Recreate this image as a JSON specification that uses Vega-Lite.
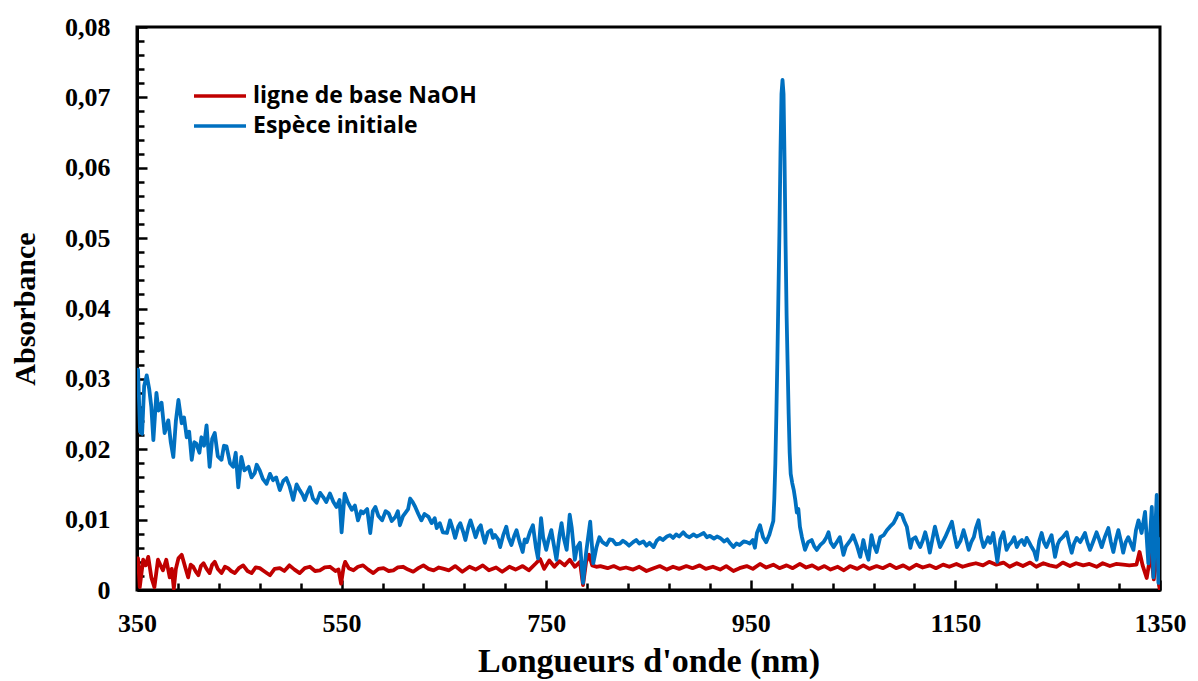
{
 "$schema": "https://vega.github.io/schema/vega-lite/v6.json",
 "width": 1023, "height": 563,
 "autosize": {"type": "none"},
 "padding": {"left": 137, "top": 27, "right": 38, "bottom": 91},
 "background": "white",
 "config": {
  "view": {"stroke": "black", "strokeWidth": 3},
  "axis": {"labelFont": "Liberation Serif", "labelFontWeight": "bold", "labelFontSize": 26, "labelColor": "black",
   "titleFont": "Liberation Serif", "titleFontWeight": "bold", "titleColor": "black",
   "domainColor": "black", "domainWidth": 3, "ticks": false, "gridColor": "black", "gridWidth": 2.5, "gridOpacity": 1, "zindex": 1}
 },
 "data": {"values": [
{"s":"R","w":350,"v":0.004},{"s":"R","w":351,"v":0.0045},{"s":"R","w":352.7,"v":0.0004},{"s":"R","w":356,"v":0.0043},{"s":"R","w":358.5,"v":0.0035},{"s":"R","w":361,"v":0.0047},{"s":"R","w":364,"v":0.0018},{"s":"R","w":367,"v":0.0004},{"s":"R","w":370.5,"v":0.0043},{"s":"R","w":373,"v":0.0035},{"s":"R","w":375.4,"v":0.0028},{"s":"R","w":378.6,"v":0.0043},{"s":"R","w":382,"v":0.0018},{"s":"R","w":384,"v":0.003},{"s":"R","w":386,"v":0.0002},{"s":"R","w":388,"v":0.003},{"s":"R","w":390.5,"v":0.0045},{"s":"R","w":393.7,"v":0.005},{"s":"R","w":397,"v":0.0033},{"s":"R","w":400,"v":0.0018},{"s":"R","w":402.5,"v":0.0036},{"s":"R","w":405,"v":0.0033},{"s":"R","w":407.5,"v":0.0026},{"s":"R","w":410,"v":0.0021},{"s":"R","w":412.5,"v":0.0034},{"s":"R","w":415,"v":0.0038},{"s":"R","w":418,"v":0.003},{"s":"R","w":421,"v":0.0024},{"s":"R","w":423.5,"v":0.0036},{"s":"R","w":426,"v":0.004},{"s":"R","w":429,"v":0.003},{"s":"R","w":432.6,"v":0.0024},{"s":"R","w":436,"v":0.0033},{"s":"R","w":439,"v":0.0031},{"s":"R","w":442,"v":0.0027},{"s":"R","w":445.6,"v":0.0024},{"s":"R","w":449.5,"v":0.0031},{"s":"R","w":453.8,"v":0.0035},{"s":"R","w":458,"v":0.0027},{"s":"R","w":462,"v":0.0024},{"s":"R","w":466,"v":0.0032},{"s":"R","w":470,"v":0.0031},{"s":"R","w":475,"v":0.0026},{"s":"R","w":480,"v":0.0021},{"s":"R","w":484.5,"v":0.003},{"s":"R","w":489.6,"v":0.0031},{"s":"R","w":494,"v":0.0027},{"s":"R","w":499,"v":0.0035},{"s":"R","w":504,"v":0.0029},{"s":"R","w":509,"v":0.0024},{"s":"R","w":514,"v":0.0031},{"s":"R","w":519,"v":0.0033},{"s":"R","w":524,"v":0.0027},{"s":"R","w":528.8,"v":0.0028},{"s":"R","w":533.5,"v":0.0032},{"s":"R","w":538.6,"v":0.0033},{"s":"R","w":544,"v":0.0027},{"s":"R","w":547,"v":0.0029},{"s":"R","w":549.5,"v":0.0009},{"s":"R","w":552,"v":0.0033},{"s":"R","w":553.5,"v":0.004},{"s":"R","w":557,"v":0.0031},{"s":"R","w":561.6,"v":0.0028},{"s":"R","w":566,"v":0.0033},{"s":"R","w":571,"v":0.0035},{"s":"R","w":576,"v":0.0029},{"s":"R","w":581,"v":0.0024},{"s":"R","w":586,"v":0.003},{"s":"R","w":591,"v":0.0031},{"s":"R","w":596,"v":0.0027},{"s":"R","w":600.6,"v":0.0028},{"s":"R","w":605,"v":0.0032},{"s":"R","w":610,"v":0.0033},{"s":"R","w":615,"v":0.0029},{"s":"R","w":620,"v":0.0026},{"s":"R","w":625,"v":0.0031},{"s":"R","w":630,"v":0.0035},{"s":"R","w":635,"v":0.003},{"s":"R","w":640,"v":0.0028},{"s":"R","w":645,"v":0.0032},{"s":"R","w":650,"v":0.003},{"s":"R","w":655,"v":0.0028},{"s":"R","w":661,"v":0.0034},{"s":"R","w":668,"v":0.0026},{"s":"R","w":675,"v":0.0033},{"s":"R","w":681,"v":0.0029},{"s":"R","w":688,"v":0.0035},{"s":"R","w":694,"v":0.0028},{"s":"R","w":701,"v":0.0032},{"s":"R","w":707,"v":0.0026},{"s":"R","w":714,"v":0.0033},{"s":"R","w":720,"v":0.0029},{"s":"R","w":727,"v":0.0034},{"s":"R","w":733,"v":0.0028},{"s":"R","w":740,"v":0.0038},{"s":"R","w":744,"v":0.0044},{"s":"R","w":748,"v":0.003},{"s":"R","w":753,"v":0.0042},{"s":"R","w":758,"v":0.0033},{"s":"R","w":763,"v":0.0041},{"s":"R","w":768,"v":0.0035},{"s":"R","w":773,"v":0.0043},{"s":"R","w":778,"v":0.0033},{"s":"R","w":783,"v":0.004},{"s":"R","w":786,"v":0.0007},{"s":"R","w":789,"v":0.004},{"s":"R","w":792,"v":0.005},{"s":"R","w":795,"v":0.0035},{"s":"R","w":799,"v":0.0033},{"s":"R","w":803,"v":0.0034},{"s":"R","w":810,"v":0.0031},{"s":"R","w":816,"v":0.0034},{"s":"R","w":822,"v":0.003},{"s":"R","w":828,"v":0.0032},{"s":"R","w":835,"v":0.0029},{"s":"R","w":841,"v":0.0033},{"s":"R","w":848,"v":0.0027},{"s":"R","w":855,"v":0.0031},{"s":"R","w":861,"v":0.0034},{"s":"R","w":868,"v":0.0029},{"s":"R","w":874,"v":0.0033},{"s":"R","w":880,"v":0.003},{"s":"R","w":887,"v":0.0034},{"s":"R","w":893,"v":0.0031},{"s":"R","w":900,"v":0.0035},{"s":"R","w":906,"v":0.003},{"s":"R","w":913,"v":0.0033},{"s":"R","w":920,"v":0.0029},{"s":"R","w":926,"v":0.0034},{"s":"R","w":933,"v":0.0027},{"s":"R","w":939,"v":0.0031},{"s":"R","w":946,"v":0.0034},{"s":"R","w":952,"v":0.003},{"s":"R","w":959,"v":0.0037},{"s":"R","w":965,"v":0.0032},{"s":"R","w":972,"v":0.0036},{"s":"R","w":978,"v":0.0031},{"s":"R","w":985,"v":0.0035},{"s":"R","w":991,"v":0.0031},{"s":"R","w":998,"v":0.0037},{"s":"R","w":1004,"v":0.0032},{"s":"R","w":1010,"v":0.0035},{"s":"R","w":1016,"v":0.003},{"s":"R","w":1022,"v":0.0034},{"s":"R","w":1028,"v":0.0029},{"s":"R","w":1035,"v":0.0033},{"s":"R","w":1041,"v":0.0028},{"s":"R","w":1047,"v":0.0034},{"s":"R","w":1054,"v":0.003},{"s":"R","w":1060,"v":0.0035},{"s":"R","w":1066,"v":0.003},{"s":"R","w":1073,"v":0.0034},{"s":"R","w":1079,"v":0.0031},{"s":"R","w":1086,"v":0.0036},{"s":"R","w":1092,"v":0.0031},{"s":"R","w":1099,"v":0.0035},{"s":"R","w":1105,"v":0.003},{"s":"R","w":1112,"v":0.0036},{"s":"R","w":1118,"v":0.0032},{"s":"R","w":1125,"v":0.0035},{"s":"R","w":1131,"v":0.0031},{"s":"R","w":1138,"v":0.0036},{"s":"R","w":1144,"v":0.0033},{"s":"R","w":1151,"v":0.0037},{"s":"R","w":1157,"v":0.0033},{"s":"R","w":1164,"v":0.0036},{"s":"R","w":1170,"v":0.0038},{"s":"R","w":1177,"v":0.0035},{"s":"R","w":1183,"v":0.004},{"s":"R","w":1190,"v":0.0036},{"s":"R","w":1197,"v":0.0039},{"s":"R","w":1203,"v":0.0033},{"s":"R","w":1210,"v":0.0038},{"s":"R","w":1216,"v":0.0034},{"s":"R","w":1223,"v":0.0039},{"s":"R","w":1229,"v":0.0033},{"s":"R","w":1236,"v":0.0038},{"s":"R","w":1242,"v":0.0035},{"s":"R","w":1249,"v":0.0033},{"s":"R","w":1255,"v":0.0039},{"s":"R","w":1262,"v":0.0034},{"s":"R","w":1268,"v":0.0038},{"s":"R","w":1275,"v":0.0035},{"s":"R","w":1281,"v":0.0037},{"s":"R","w":1288,"v":0.0033},{"s":"R","w":1294,"v":0.0038},{"s":"R","w":1301,"v":0.0034},{"s":"R","w":1307,"v":0.0037},{"s":"R","w":1314,"v":0.0036},{"s":"R","w":1320,"v":0.0035},{"s":"R","w":1327,"v":0.0036},{"s":"R","w":1330,"v":0.0054},{"s":"R","w":1333,"v":0.0035},{"s":"R","w":1337,"v":0.0017},{"s":"R","w":1341,"v":0.0052},{"s":"R","w":1344,"v":0.0015},{"s":"R","w":1347,"v":0.0071},{"s":"R","w":1349,"v":0.0007},{"s":"R","w":1350,"v":0.0},
{"s":"B","w":350,"v":0.0285},{"s":"B","w":351,"v":0.0313},{"s":"B","w":353,"v":0.0225},{"s":"B","w":355,"v":0.0222},{"s":"B","w":357,"v":0.029},{"s":"B","w":359.5,"v":0.0305},{"s":"B","w":362,"v":0.0285},{"s":"B","w":364,"v":0.026},{"s":"B","w":366,"v":0.0213},{"s":"B","w":369,"v":0.028},{"s":"B","w":371,"v":0.0255},{"s":"B","w":374,"v":0.0266},{"s":"B","w":377,"v":0.0223},{"s":"B","w":380.6,"v":0.0241},{"s":"B","w":383,"v":0.021},{"s":"B","w":385.5,"v":0.0189},{"s":"B","w":388,"v":0.024},{"s":"B","w":390.5,"v":0.027},{"s":"B","w":393.7,"v":0.0237},{"s":"B","w":396,"v":0.0245},{"s":"B","w":398.6,"v":0.0217},{"s":"B","w":401,"v":0.0225},{"s":"B","w":403.5,"v":0.0185},{"s":"B","w":406,"v":0.021},{"s":"B","w":408,"v":0.0208},{"s":"B","w":411,"v":0.0195},{"s":"B","w":413,"v":0.0217},{"s":"B","w":415.5,"v":0.0205},{"s":"B","w":418,"v":0.0234},{"s":"B","w":421,"v":0.0175},{"s":"B","w":423.5,"v":0.0215},{"s":"B","w":426,"v":0.0223},{"s":"B","w":429,"v":0.019},{"s":"B","w":432.6,"v":0.0185},{"s":"B","w":435,"v":0.0205},{"s":"B","w":437.5,"v":0.0204},{"s":"B","w":441,"v":0.018},{"s":"B","w":444,"v":0.0175},{"s":"B","w":446.5,"v":0.0195},{"s":"B","w":449,"v":0.0146},{"s":"B","w":452,"v":0.0189},{"s":"B","w":455,"v":0.017},{"s":"B","w":459,"v":0.0175},{"s":"B","w":462,"v":0.016},{"s":"B","w":465,"v":0.0166},{"s":"B","w":467,"v":0.0178},{"s":"B","w":470,"v":0.017},{"s":"B","w":473,"v":0.0158},{"s":"B","w":476.7,"v":0.0151},{"s":"B","w":480,"v":0.0165},{"s":"B","w":483,"v":0.0156},{"s":"B","w":486,"v":0.016},{"s":"B","w":489.6,"v":0.0142},{"s":"B","w":493,"v":0.0155},{"s":"B","w":496,"v":0.0159},{"s":"B","w":499,"v":0.0148},{"s":"B","w":502.7,"v":0.0128},{"s":"B","w":506,"v":0.015},{"s":"B","w":509,"v":0.0142},{"s":"B","w":512,"v":0.0135},{"s":"B","w":514,"v":0.0128},{"s":"B","w":517,"v":0.014},{"s":"B","w":519,"v":0.0146},{"s":"B","w":522,"v":0.013},{"s":"B","w":525.6,"v":0.0124},{"s":"B","w":529,"v":0.0138},{"s":"B","w":532,"v":0.0132},{"s":"B","w":535,"v":0.0125},{"s":"B","w":538.6,"v":0.0137},{"s":"B","w":542,"v":0.0125},{"s":"B","w":545,"v":0.0118},{"s":"B","w":548,"v":0.0128},{"s":"B","w":550,"v":0.0082},{"s":"B","w":553,"v":0.0137},{"s":"B","w":556,"v":0.0125},{"s":"B","w":560,"v":0.0114},{"s":"B","w":563,"v":0.012},{"s":"B","w":566,"v":0.0099},{"s":"B","w":569,"v":0.0112},{"s":"B","w":571,"v":0.0109},{"s":"B","w":575,"v":0.0115},{"s":"B","w":578,"v":0.0081},{"s":"B","w":580.5,"v":0.0112},{"s":"B","w":583,"v":0.0118},{"s":"B","w":586,"v":0.0105},{"s":"B","w":589.6,"v":0.0099},{"s":"B","w":593,"v":0.0112},{"s":"B","w":596,"v":0.0109},{"s":"B","w":599,"v":0.0098},{"s":"B","w":602.7,"v":0.0104},{"s":"B","w":605,"v":0.0112},{"s":"B","w":607,"v":0.0092},{"s":"B","w":610,"v":0.0105},{"s":"B","w":612,"v":0.0109},{"s":"B","w":615,"v":0.0115},{"s":"B","w":617,"v":0.013},{"s":"B","w":619.5,"v":0.0125},{"s":"B","w":622,"v":0.0118},{"s":"B","w":625,"v":0.0108},{"s":"B","w":628,"v":0.0099},{"s":"B","w":631,"v":0.0108},{"s":"B","w":635,"v":0.0104},{"s":"B","w":638,"v":0.0095},{"s":"B","w":641,"v":0.0102},{"s":"B","w":643,"v":0.0088},{"s":"B","w":646,"v":0.0095},{"s":"B","w":649,"v":0.0082},{"s":"B","w":653,"v":0.0081},{"s":"B","w":656,"v":0.0099},{"s":"B","w":659,"v":0.0085},{"s":"B","w":661,"v":0.0074},{"s":"B","w":664,"v":0.009},{"s":"B","w":666,"v":0.0095},{"s":"B","w":669,"v":0.0082},{"s":"B","w":671,"v":0.0071},{"s":"B","w":674,"v":0.009},{"s":"B","w":676,"v":0.0099},{"s":"B","w":679,"v":0.0085},{"s":"B","w":681,"v":0.0075},{"s":"B","w":684,"v":0.0088},{"s":"B","w":686,"v":0.0092},{"s":"B","w":688,"v":0.0078},{"s":"B","w":690,"v":0.0067},{"s":"B","w":693,"v":0.0082},{"s":"B","w":696,"v":0.0085},{"s":"B","w":698,"v":0.0074},{"s":"B","w":700,"v":0.0078},{"s":"B","w":703,"v":0.0072},{"s":"B","w":705,"v":0.0061},{"s":"B","w":708,"v":0.0078},{"s":"B","w":711,"v":0.009},{"s":"B","w":713,"v":0.0075},{"s":"B","w":716,"v":0.0064},{"s":"B","w":719,"v":0.0078},{"s":"B","w":721,"v":0.0085},{"s":"B","w":724,"v":0.0068},{"s":"B","w":727,"v":0.0054},{"s":"B","w":729,"v":0.0072},{"s":"B","w":731,"v":0.0068},{"s":"B","w":734,"v":0.0082},{"s":"B","w":737,"v":0.0092},{"s":"B","w":740,"v":0.006},{"s":"B","w":742,"v":0.0045},{"s":"B","w":745,"v":0.0102},{"s":"B","w":747,"v":0.0075},{"s":"B","w":750,"v":0.0057},{"s":"B","w":752,"v":0.007},{"s":"B","w":755,"v":0.0085},{"s":"B","w":757,"v":0.0068},{"s":"B","w":760,"v":0.0043},{"s":"B","w":763,"v":0.0078},{"s":"B","w":765,"v":0.0095},{"s":"B","w":767,"v":0.0075},{"s":"B","w":770,"v":0.0057},{"s":"B","w":773,"v":0.0107},{"s":"B","w":775,"v":0.0088},{"s":"B","w":778,"v":0.0043},{"s":"B","w":780,"v":0.006},{"s":"B","w":783,"v":0.0067},{"s":"B","w":786,"v":0.001},{"s":"B","w":789,"v":0.0053},{"s":"B","w":791,"v":0.0075},{"s":"B","w":793,"v":0.0097},{"s":"B","w":796,"v":0.0038},{"s":"B","w":799,"v":0.006},{"s":"B","w":802,"v":0.0075},{"s":"B","w":805,"v":0.0068},{"s":"B","w":809,"v":0.0064},{"s":"B","w":812,"v":0.0072},{"s":"B","w":815,"v":0.0071},{"s":"B","w":818,"v":0.0065},{"s":"B","w":822,"v":0.0066},{"s":"B","w":825,"v":0.007},{"s":"B","w":828,"v":0.0067},{"s":"B","w":831,"v":0.0063},{"s":"B","w":835,"v":0.0068},{"s":"B","w":838,"v":0.0071},{"s":"B","w":841,"v":0.0066},{"s":"B","w":845,"v":0.0069},{"s":"B","w":848,"v":0.0063},{"s":"B","w":851,"v":0.0067},{"s":"B","w":855,"v":0.0061},{"s":"B","w":858,"v":0.007},{"s":"B","w":861,"v":0.0074},{"s":"B","w":864,"v":0.0071},{"s":"B","w":868,"v":0.0076},{"s":"B","w":871,"v":0.0078},{"s":"B","w":874,"v":0.0074},{"s":"B","w":877,"v":0.0079},{"s":"B","w":880,"v":0.0076},{"s":"B","w":884,"v":0.0082},{"s":"B","w":887,"v":0.0077},{"s":"B","w":890,"v":0.0075},{"s":"B","w":894,"v":0.0079},{"s":"B","w":897,"v":0.0076},{"s":"B","w":900,"v":0.0078},{"s":"B","w":904,"v":0.0081},{"s":"B","w":907,"v":0.0075},{"s":"B","w":910,"v":0.0077},{"s":"B","w":914,"v":0.0073},{"s":"B","w":917,"v":0.0076},{"s":"B","w":920,"v":0.0074},{"s":"B","w":924,"v":0.0069},{"s":"B","w":927,"v":0.0072},{"s":"B","w":930,"v":0.0066},{"s":"B","w":933,"v":0.0061},{"s":"B","w":936,"v":0.0066},{"s":"B","w":939,"v":0.0064},{"s":"B","w":943,"v":0.0069},{"s":"B","w":946,"v":0.0068},{"s":"B","w":949,"v":0.0066},{"s":"B","w":952,"v":0.0071},{"s":"B","w":954,"v":0.006},{"s":"B","w":956,"v":0.0081},{"s":"B","w":959,"v":0.0092},{"s":"B","w":962,"v":0.0075},{"s":"B","w":965,"v":0.0068},{"s":"B","w":968,"v":0.0078},{"s":"B","w":970,"v":0.0088},{"s":"B","w":972,"v":0.0098},{"s":"B","w":973,"v":0.013},{"s":"B","w":974,"v":0.018},{"s":"B","w":975,"v":0.025},{"s":"B","w":976,"v":0.033},{"s":"B","w":977,"v":0.042},{"s":"B","w":978,"v":0.051},{"s":"B","w":979,"v":0.062},{"s":"B","w":980,"v":0.0705},{"s":"B","w":981,"v":0.0725},{"s":"B","w":982,"v":0.0705},{"s":"B","w":983,"v":0.061},{"s":"B","w":984,"v":0.049},{"s":"B","w":985,"v":0.039},{"s":"B","w":986,"v":0.032},{"s":"B","w":987,"v":0.025},{"s":"B","w":988,"v":0.0195},{"s":"B","w":989,"v":0.0165},{"s":"B","w":990.5,"v":0.0152},{"s":"B","w":992,"v":0.0142},{"s":"B","w":993.5,"v":0.0128},{"s":"B","w":995,"v":0.011},{"s":"B","w":996.5,"v":0.0115},{"s":"B","w":998,"v":0.009},{"s":"B","w":1000,"v":0.0075},{"s":"B","w":1003,"v":0.0057},{"s":"B","w":1006,"v":0.0068},{"s":"B","w":1009.5,"v":0.0071},{"s":"B","w":1012,"v":0.0062},{"s":"B","w":1014.5,"v":0.0057},{"s":"B","w":1018,"v":0.0064},{"s":"B","w":1021,"v":0.0068},{"s":"B","w":1024,"v":0.0075},{"s":"B","w":1026,"v":0.0082},{"s":"B","w":1028,"v":0.0068},{"s":"B","w":1031,"v":0.0061},{"s":"B","w":1034,"v":0.0068},{"s":"B","w":1037,"v":0.0075},{"s":"B","w":1040.6,"v":0.005},{"s":"B","w":1043,"v":0.0062},{"s":"B","w":1045.5,"v":0.0067},{"s":"B","w":1048,"v":0.0072},{"s":"B","w":1050,"v":0.0078},{"s":"B","w":1054,"v":0.0062},{"s":"B","w":1057,"v":0.0047},{"s":"B","w":1060,"v":0.0071},{"s":"B","w":1062,"v":0.0058},{"s":"B","w":1065,"v":0.0043},{"s":"B","w":1068,"v":0.0078},{"s":"B","w":1070,"v":0.0065},{"s":"B","w":1073,"v":0.0054},{"s":"B","w":1076.5,"v":0.0075},{"s":"B","w":1080,"v":0.0078},{"s":"B","w":1083,"v":0.0085},{"s":"B","w":1086,"v":0.009},{"s":"B","w":1089.5,"v":0.0095},{"s":"B","w":1092,"v":0.0102},{"s":"B","w":1094,"v":0.0109},{"s":"B","w":1097.7,"v":0.0107},{"s":"B","w":1100,"v":0.0098},{"s":"B","w":1102.5,"v":0.009},{"s":"B","w":1106,"v":0.006},{"s":"B","w":1108,"v":0.0072},{"s":"B","w":1111,"v":0.0075},{"s":"B","w":1113,"v":0.0068},{"s":"B","w":1115.6,"v":0.0061},{"s":"B","w":1118,"v":0.007},{"s":"B","w":1120.5,"v":0.0082},{"s":"B","w":1123,"v":0.0068},{"s":"B","w":1125,"v":0.0053},{"s":"B","w":1127.5,"v":0.0072},{"s":"B","w":1130,"v":0.009},{"s":"B","w":1133,"v":0.0072},{"s":"B","w":1135,"v":0.0061},{"s":"B","w":1137.5,"v":0.0068},{"s":"B","w":1140,"v":0.0075},{"s":"B","w":1143,"v":0.0085},{"s":"B","w":1146.6,"v":0.0097},{"s":"B","w":1149,"v":0.0078},{"s":"B","w":1151.5,"v":0.0061},{"s":"B","w":1155,"v":0.007},{"s":"B","w":1158,"v":0.0085},{"s":"B","w":1160.5,"v":0.0072},{"s":"B","w":1163,"v":0.0057},{"s":"B","w":1165.5,"v":0.0068},{"s":"B","w":1168,"v":0.0075},{"s":"B","w":1170,"v":0.0088},{"s":"B","w":1172.6,"v":0.0099},{"s":"B","w":1175,"v":0.0075},{"s":"B","w":1177.5,"v":0.0061},{"s":"B","w":1180,"v":0.0068},{"s":"B","w":1182,"v":0.0075},{"s":"B","w":1184,"v":0.0067},{"s":"B","w":1187,"v":0.0081},{"s":"B","w":1191,"v":0.004},{"s":"B","w":1194,"v":0.0072},{"s":"B","w":1197,"v":0.0082},{"s":"B","w":1200,"v":0.0057},{"s":"B","w":1202.5,"v":0.0064},{"s":"B","w":1205,"v":0.0068},{"s":"B","w":1207.5,"v":0.0075},{"s":"B","w":1210,"v":0.0061},{"s":"B","w":1212.5,"v":0.0068},{"s":"B","w":1215,"v":0.0071},{"s":"B","w":1217.5,"v":0.0064},{"s":"B","w":1219.7,"v":0.0074},{"s":"B","w":1222,"v":0.0068},{"s":"B","w":1224.5,"v":0.0061},{"s":"B","w":1227,"v":0.0055},{"s":"B","w":1229.4,"v":0.0043},{"s":"B","w":1232,"v":0.007},{"s":"B","w":1234.3,"v":0.0081},{"s":"B","w":1236.5,"v":0.0068},{"s":"B","w":1239,"v":0.0061},{"s":"B","w":1241.5,"v":0.007},{"s":"B","w":1244,"v":0.0078},{"s":"B","w":1247.4,"v":0.0047},{"s":"B","w":1250,"v":0.0065},{"s":"B","w":1252,"v":0.0071},{"s":"B","w":1255,"v":0.0075},{"s":"B","w":1258.8,"v":0.0082},{"s":"B","w":1261,"v":0.0068},{"s":"B","w":1263.7,"v":0.0053},{"s":"B","w":1266,"v":0.0066},{"s":"B","w":1268.6,"v":0.0074},{"s":"B","w":1272,"v":0.0068},{"s":"B","w":1276.7,"v":0.0081},{"s":"B","w":1279,"v":0.0068},{"s":"B","w":1281.6,"v":0.0057},{"s":"B","w":1285,"v":0.007},{"s":"B","w":1288,"v":0.0082},{"s":"B","w":1290.5,"v":0.0072},{"s":"B","w":1293,"v":0.0061},{"s":"B","w":1296,"v":0.0075},{"s":"B","w":1299.5,"v":0.0088},{"s":"B","w":1302,"v":0.0068},{"s":"B","w":1304.4,"v":0.0054},{"s":"B","w":1307,"v":0.0072},{"s":"B","w":1309.3,"v":0.0085},{"s":"B","w":1312,"v":0.0068},{"s":"B","w":1314,"v":0.0053},{"s":"B","w":1316.5,"v":0.0068},{"s":"B","w":1319,"v":0.0075},{"s":"B","w":1321.5,"v":0.0066},{"s":"B","w":1324,"v":0.0057},{"s":"B","w":1326.5,"v":0.0085},{"s":"B","w":1329,"v":0.0099},{"s":"B","w":1332,"v":0.0081},{"s":"B","w":1335.4,"v":0.0111},{"s":"B","w":1338.6,"v":0.0038},{"s":"B","w":1342,"v":0.0118},{"s":"B","w":1343.5,"v":0.0018},{"s":"B","w":1346.8,"v":0.0135},{"s":"B","w":1348.5,"v":0.001},{"s":"B","w":1350,"v":0.0075}
 ]},
 "mark": {"type": "line", "strokeWidth": 3.8, "clip": true, "strokeJoin": "round"},
 "encoding": {
  "x": {"field": "w", "type": "quantitative",
   "scale": {"domain": [350, 1350], "nice": false, "zero": false},
   "axis": {"title": "Longueurs d'onde (nm)", "titleFontSize": 34, "titlePadding": 8,
    "values": [350,390,430,470,510,550,590,630,670,710,750,790,830,870,910,950,990,1030,1070,1110,1150,1190,1230,1270,1310,1350],
    "labelExpr": "(datum.value - 350) % 200 == 0 ? format(datum.value, 'd') : ''",
    "labelPadding": 20, "labelFlush": false, "labelOverlap": false,
    "grid": true,
    "gridDash": {"condition": {"test": "(datum.value - 350) % 200 == 0", "value": [10, 553]}, "value": [7, 556]},
    "gridDashOffset": {"condition": {"test": "(datum.value - 350) % 200 == 0", "value": 10}, "value": 7}}},
  "y": {"field": "v", "type": "quantitative",
   "scale": {"domain": [0, 0.08], "nice": false},
   "axis": {"title": "Absorbance", "titleFontSize": 30, "titlePadding": 24,
    "values": [0,0.002,0.004,0.006,0.008,0.01,0.012,0.014,0.016,0.018,0.02,0.022,0.024,0.026,0.028,0.03,0.032,0.034,0.036,0.038,0.04,0.042,0.044,0.046,0.048,0.05,0.052,0.054,0.056,0.058,0.06,0.062,0.064,0.066,0.068,0.07,0.072,0.074,0.076,0.078,0.08],
    "labelExpr": "abs(datum.value*100 - round(datum.value*100)) < 0.001 ? (datum.value == 0 ? '0' : replace(format(datum.value, '.2f'), '.', ',')) : ''",
    "labelPadding": 27, "labelFlush": false, "labelOverlap": false,
    "grid": true,
    "gridDash": {"condition": {"test": "abs(datum.value*100 - round(datum.value*100)) < 0.001", "value": [10, 1013]}, "value": [7, 1016]}}},
  "color": {"field": "s", "type": "nominal",
   "scale": {"domain": ["R", "B"], "range": ["#C00000", "#0070C0"]},
   "legend": {"orient": "none", "legendX": 68, "legendY": 54, "title": null,
    "labelExpr": "datum.value == 'R' ? 'ligne de base NaOH' : 'Espèce initiale'",
    "labelFont": "Open Sans", "labelFontWeight": "bold", "labelFontSize": 23, "labelColor": "black", "labelLimit": 500,
    "symbolType": "M-2,0H2", "symbolSize": 676, "symbolStrokeWidth": 3.5, "labelOffset": 18, "rowPadding": 3}}
 }
}
